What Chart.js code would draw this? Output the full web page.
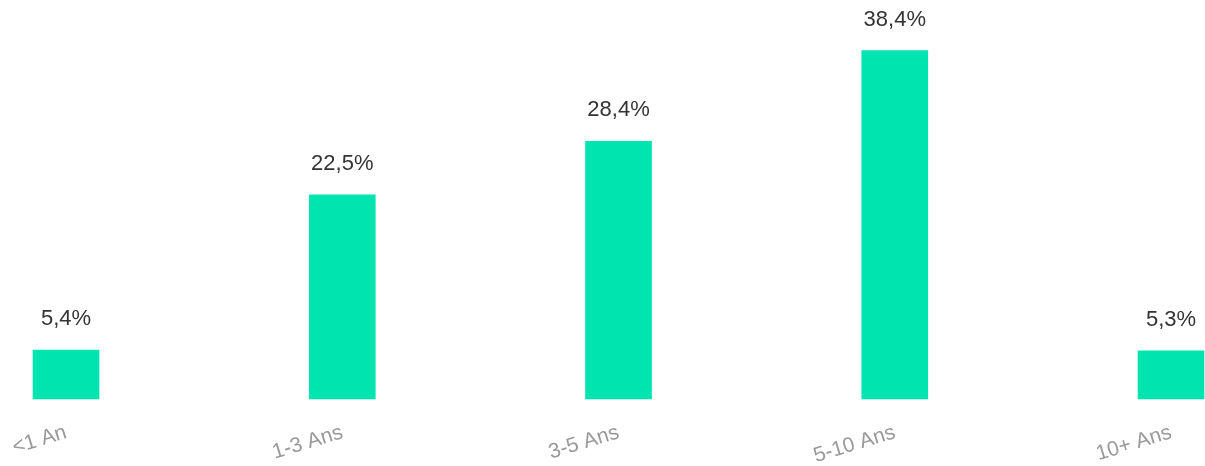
<!DOCTYPE html>
<html>
<head>
<meta charset="utf-8">
<script src="https://cdn.jsdelivr.net/npm/chart.js@4"></script>
<style>
  html, body { margin: 0; padding: 0; background: #fff; }
  #wrap { width: 1205px; height: 466px; }
</style>
</head>
<body>
<div id="wrap"><canvas id="c"></canvas></div>
<script>
// Répartition par ancienneté
const categories = ['<1 An', '1-3 Ans', '3-5 Ans', '5-10 Ans', '10+ Ans'];
const values = [5.4, 22.5, 28.4, 38.4, 5.3];

// Draw value labels above each bar ("5,4%")
const valueLabels = {
  id: 'valueLabels',
  afterDatasetsDraw(chart) {
    const ctx = chart.ctx;
    const meta = chart.getDatasetMeta(0);
    ctx.save();
    ctx.font = "22px 'Liberation Sans', Arial, sans-serif";
    ctx.fillStyle = '#333333';
    ctx.textAlign = 'center';
    ctx.textBaseline = 'alphabetic';
    meta.data.forEach((bar, i) => {
      const txt = values[i].toFixed(1).replace('.', ',') + '%';
      ctx.fillText(txt, bar.x, bar.y - 25);
    });
    ctx.restore();
  }
};

new Chart(document.getElementById('c'), {
  type: 'bar',
  data: {
    labels: categories,
    datasets: [{
      data: values,
      backgroundColor: '#00e5b0',
      borderWidth: 0,
      barThickness: 66,
      clip: false,
    }],
  },
  options: {
    responsive: true,
    maintainAspectRatio: false,
    animation: false,
    layout: { padding: { top: 36, left: 7.5, right: 34, bottom: 0 } },
    plugins: {
      legend: { display: false },
      tooltip: { enabled: false },
    },
    scales: {
      x: {
        offset: false,
        grid: { display: false },
        border: { display: false },
        afterFit: scale => { scale.height = 67; },
        ticks: {
          color: '#999999',
          font: { family: "'Liberation Sans', Arial, sans-serif", size: 21 },
          minRotation: 17,
          maxRotation: 17,
          padding: 13,
        },
      },
      y: {
        display: false,
        min: 0,
        max: 40,
      },
    },
  },
  plugins: [valueLabels],
});
</script>
</body>
</html>
